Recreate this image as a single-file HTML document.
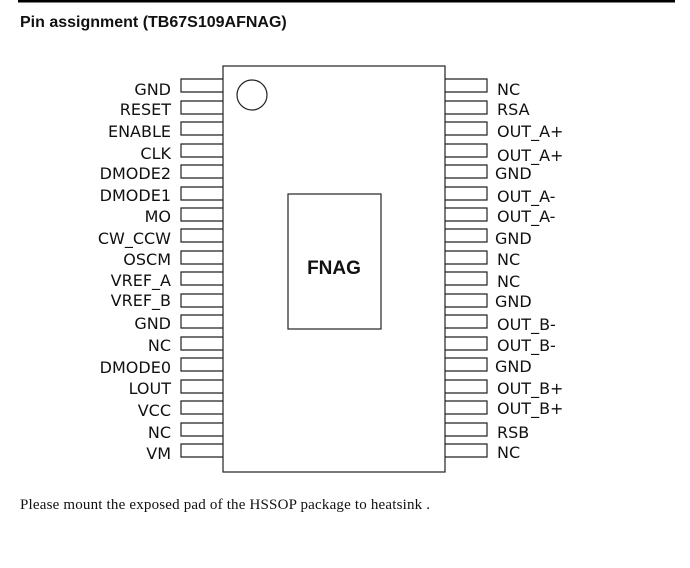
<!DOCTYPE html>
<html><head><style>html,body{margin:0;padding:0;background:#fff;width:690px;height:568px;overflow:hidden}</style></head>
<body>
<svg width="690" height="568" xmlns="http://www.w3.org/2000/svg">
<rect x="18" y="0" width="657" height="2.5" fill="#000"/>
<text x="20" y="27" font-family="Liberation Sans, sans-serif" font-weight="bold" font-size="16" fill="#111">Pin assignment (TB67S109AFNAG)</text>
<g fill="none" stroke="#222" stroke-width="1.2">
<rect x="223" y="66" width="222" height="406"/>
<circle cx="252" cy="95" r="15"/>
<rect x="288" y="194" width="93" height="135"/>
</g>
<g fill="none" stroke="#222" stroke-width="1.2">
<path d="M223 79H181V92H223M223 101H181V114H223M223 122H181V135H223M223 144H181V157H223M223 165H181V178H223M223 187H181V200H223M223 208H181V221H223M223 229H181V242H223M223 251H181V264H223M223 272H181V285H223M223 294H181V307H223M223 315H181V328H223M223 337H181V350H223M223 358H181V371H223M223 380H181V393H223M223 401H181V414H223M223 423H181V436H223M223 444H181V457H223"/>
<path d="M445 79H487V92H445M445 101H487V114H445M445 122H487V135H445M445 144H487V157H445M445 165H487V178H445M445 187H487V200H445M445 208H487V221H445M445 229H487V242H445M445 251H487V264H445M445 272H487V285H445M445 294H487V307H445M445 315H487V328H445M445 337H487V350H445M445 358H487V371H445M445 380H487V393H445M445 401H487V414H445M445 423H487V436H445M445 444H487V457H445"/>
</g>
<text x="334" y="274" text-anchor="middle" font-family="Liberation Sans, sans-serif" font-weight="bold" font-size="19" fill="#111">FNAG</text>
<g font-family="DejaVu Sans, sans-serif" font-size="16" fill="#111" text-anchor="end">
<text x="171" y="95">GND</text><text x="171" y="115">RESET</text><text x="171" y="137">ENABLE</text><text x="171" y="159">CLK</text><text x="171" y="179">DMODE2</text><text x="171" y="201">DMODE1</text><text x="171" y="222">MO</text><text x="171" y="244">CW_CCW</text><text x="171" y="265">OSCM</text><text x="171" y="286">VREF_A</text><text x="171" y="306">VREF_B</text><text x="171" y="329">GND</text><text x="171" y="351">NC</text><text x="171" y="373">DMODE0</text><text x="171" y="394">LOUT</text><text x="171" y="416">VCC</text><text x="171" y="438">NC</text><text x="171" y="459">VM</text>
</g>
<g font-family="DejaVu Sans, sans-serif" font-size="16" fill="#111">
<text x="497" y="95">NC</text><text x="497" y="115">RSA</text><text x="497" y="137">OUT_A+</text><text x="497" y="161">OUT_A+</text><text x="495" y="179">GND</text><text x="497" y="202">OUT_A-</text><text x="497" y="222">OUT_A-</text><text x="495" y="244">GND</text><text x="497" y="265">NC</text><text x="497" y="287">NC</text><text x="495" y="307">GND</text><text x="497" y="330">OUT_B-</text><text x="497" y="351">OUT_B-</text><text x="495" y="372">GND</text><text x="497" y="394">OUT_B+</text><text x="497" y="414">OUT_B+</text><text x="497" y="438">RSB</text><text x="497" y="458">NC</text>
</g>
<text x="20" y="509" font-family="Liberation Serif, serif" font-size="15" textLength="410" fill="#111">Please mount the exposed pad of the HSSOP package to heatsink .</text>
</svg>
</body></html>
